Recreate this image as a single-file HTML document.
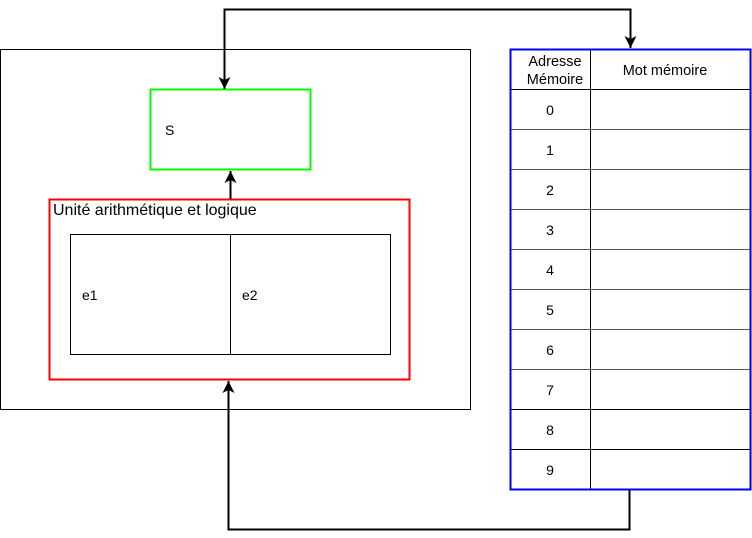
<!DOCTYPE html>
<html><head><meta charset="utf-8"><style>
html,body{margin:0;padding:0;background:#fff;width:752px;height:538px;overflow:hidden}
text{font-family:"Liberation Sans",sans-serif;font-size:14px;fill:#000}
</style></head><body>
<svg width="752" height="538" viewBox="0 0 752 538" xmlns="http://www.w3.org/2000/svg">
<defs><marker id="ar" markerWidth="12" markerHeight="12" refX="10" refY="5" orient="auto-start-reverse" markerUnits="userSpaceOnUse" viewBox="0 0 10 10"><path d="M0,0 L10,5 L0,10 L2.5,5 Z" fill="#000"/></marker></defs>
<rect x="0.5" y="49.5" width="470" height="360" fill="none" stroke="#000" stroke-width="1"/>
<rect x="150.5" y="89.5" width="160" height="80" fill="none" stroke="#00ff00" stroke-width="2"/>
<text x="165" y="135">S</text>
<rect x="49.5" y="199.5" width="360" height="180" fill="none" stroke="#ff0000" stroke-width="2"/>
<text x="53" y="215" style="font-size:16px">Unité arithmétique et logique</text>
<rect x="70.5" y="234.5" width="320" height="120" fill="none" stroke="#000"/>
<line x1="230.5" y1="234.5" x2="230.5" y2="354.5" stroke="#000"/>
<text x="82" y="300">e1</text>
<text x="242" y="300">e2</text>
<path d="M230.5,199 L230.5,171" fill="none" stroke="#000" stroke-width="2" marker-end="url(#ar)"/>
<path d="M224.5,89 L224.5,9.5 L630.5,9.5 L630.5,48" fill="none" stroke="#000" stroke-width="2" marker-start="url(#ar)" marker-end="url(#ar)"/>
<path d="M629.5,490 L629.5,529.5 L228.5,529.5 L228.5,381" fill="none" stroke="#000" stroke-width="2" marker-end="url(#ar)"/>
<g>
<line x1="590.5" y1="49.5" x2="590.5" y2="489.5" stroke="#000"/>
<g stroke="#000">
<line x1="510" y1="89.5" x2="750" y2="89.5"/><line x1="510" y1="129.5" x2="750" y2="129.5" stroke="#555"/>
<line x1="510" y1="169.5" x2="750" y2="169.5" stroke="#555"/><line x1="510" y1="209.5" x2="750" y2="209.5" stroke="#555"/>
<line x1="510" y1="249.5" x2="750" y2="249.5" stroke="#555"/><line x1="510" y1="289.5" x2="750" y2="289.5" stroke="#555"/>
<line x1="510" y1="329.5" x2="750" y2="329.5" stroke="#555"/><line x1="510" y1="369.5" x2="750" y2="369.5" stroke="#555"/>
<line x1="510" y1="409.5" x2="750" y2="409.5"/><line x1="510" y1="449.5" x2="750" y2="449.5"/>
</g>
<rect x="510.5" y="49.5" width="240" height="440" fill="none" stroke="#0000ff" stroke-width="2"/>
<text x="555" y="66" text-anchor="middle" style="font-size:14.5px">Adresse</text>
<text x="555" y="84" text-anchor="middle" style="font-size:14.5px">Mémoire</text>
<text x="665" y="75" text-anchor="middle" style="font-size:14.5px">Mot mémoire</text>
<text x="550" y="115" text-anchor="middle">0</text>
<text x="550" y="155" text-anchor="middle">1</text>
<text x="550" y="195" text-anchor="middle">2</text>
<text x="550" y="235" text-anchor="middle">3</text>
<text x="550" y="275" text-anchor="middle">4</text>
<text x="550" y="315" text-anchor="middle">5</text>
<text x="550" y="355" text-anchor="middle">6</text>
<text x="550" y="395" text-anchor="middle">7</text>
<text x="550" y="435" text-anchor="middle">8</text>
<text x="550" y="475" text-anchor="middle">9</text>
</g>
</svg>
</body></html>
